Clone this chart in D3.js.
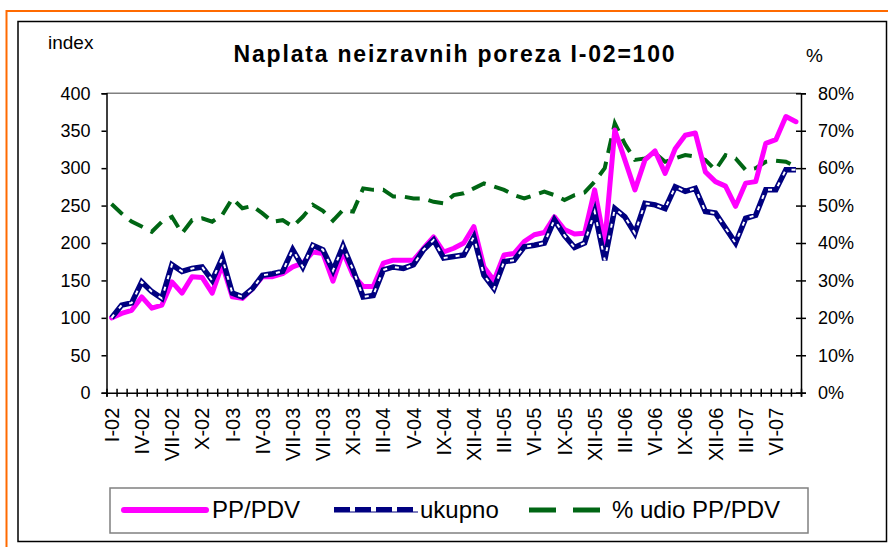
<!DOCTYPE html>
<html><head><meta charset="utf-8">
<script src="https://cdn.jsdelivr.net/npm/d3@7"></script>
<style>body{margin:0;background:#fff}svg{display:block;font-family:"Liberation Sans",Arial,sans-serif}</style>
</head><body><svg id="c" width="888" height="547"></svg>
<script>
const tickLabels = ["I-02","IV-02","VII-02","X-02","I-03","IV-03","VII-03","VII-03","XI-03","III-04","V-04","IX-04","XII-04","III-05","VI-05","IX-05","XII-05","III-06","VI-06","IX-06","XII-06","III-07","VI-07"];
const ppPdv = [100,106,110,128,113,117,148,133,155,154,133,171,128,126,139,155,155,159,168,173,188,186,149,188,157,142,142,173,177,177,177,193,208,188,193,200,222,168,150,184,186,202,211,214,235,218,212,213,271,200,351,311,271,311,323,293,326,344,347,295,282,276,249,280,282,333,338,369,362];
const ukupno = [100,117,120,148,135,126,171,162,166,168,150,180,133,128,139,157,159,162,191,168,197,191,163,196,164,128,130,164,168,166,171,191,204,180,182,184,208,157,139,175,177,195,197,200,231,210,194,200,242,177,246,235,213,253,251,246,275,269,273,242,240,220,200,233,237,271,271,298,298];
const udio = [50.4,47.9,45.7,44.4,43.0,45.7,47.0,42.6,46.1,46.6,45.7,47.5,51.9,49.3,49.9,47.9,45.7,46.1,44.4,47.0,50.2,48.6,46.0,48.8,48.4,54.6,54.2,54.2,52.4,52.4,51.9,51.9,51.0,50.6,52.8,53.3,54.6,55.9,55.1,54.2,52.8,51.9,52.8,53.7,52.8,51.5,52.8,53.5,56.4,60.0,72.0,66.5,62.2,62.6,64.0,61.7,62.6,63.5,63.1,62.2,59.5,63.5,62.6,59.5,60.0,61.7,62.0,61.7,60.4];
const categories = ppPdv.map((d, i) => i);
const leftTicks = [0,50,100,150,200,250,300,350,400];
const rightTicks = [0,10,20,30,40,50,60,70,80];

const L = 106.5, R = 801, T = 93.3, B = 392.7;
const svg = d3.select("#c");

svg.append("rect").attr("x", 6.5).attr("y", 11).attr("width", 920).attr("height", 560)
  .attr("fill", "none").attr("stroke", "#ff6a00").attr("stroke-width", 2);
svg.append("rect").attr("x", 18).attr("y", 21.5).attr("width", 868.5).attr("height", 520)
  .attr("fill", "#fff").attr("stroke", "#000").attr("stroke-width", 1.5);

const x = d3.scaleBand().domain(categories).range([L, R]);
const xb = d3.scaleLinear().domain([0, categories.length]).range([L, R]);
const yL = d3.scaleLinear().domain([0, 400]).range([B, T]);
const yR = d3.scaleLinear().domain([0, 80]).range([B, T]);

svg.append("line").attr("x1", L).attr("x2", R).attr("y1", T).attr("y2", T)
  .attr("stroke", "#808080").attr("stroke-width", 1.5);

const gl = svg.append("g").attr("transform", `translate(${L},0)`)
  .call(d3.axisLeft(yL).tickValues(leftTicks).tickSize(5).tickPadding(11));
gl.selectAll("text").attr("font-size", 18).attr("fill", "#000").attr("font-family", "Liberation Sans, Arial, sans-serif");
const gr = svg.append("g").attr("transform", `translate(${R},0)`)
  .call(d3.axisRight(yR).tickValues(rightTicks).tickFormat(d => d + "%").tickSize(5).tickPadding(12));
gr.selectAll(".tick line").attr("x1", -5);
gr.selectAll("text").attr("font-size", 18).attr("fill", "#000").attr("font-family", "Liberation Sans, Arial, sans-serif");
const gx = svg.append("g").attr("transform", `translate(0,${B})`)
  .call(d3.axisBottom(xb).tickValues(d3.range(categories.length + 1)).tickSize(4).tickFormat(""));
gx.selectAll(".tick line").attr("y1", -4);
const gx2 = svg.append("g").attr("transform", `translate(0,${B})`)
  .call(d3.axisBottom(x).tickValues(categories.filter(i => i % 3 === 0))
    .tickFormat(i => tickLabels[i / 3]).tickSize(0));
gx2.select(".domain").remove();
gx2.selectAll("text").attr("font-size", 20).attr("fill", "#000")
  .attr("font-family", "Liberation Sans, Arial, sans-serif")
  .attr("transform", "rotate(-90)").attr("text-anchor", "end")
  .attr("x", -15).attr("y", 0).attr("dy", "0.36em");
[gl, gr, gx].forEach(g => g.selectAll("path.domain, line").attr("stroke", "#000").attr("stroke-width", 1.5));

const cx = i => x(i) + x.bandwidth() / 2;
const lineL = d3.line().x((d, i) => cx(i)).y(d => yL(d));
const lineR = d3.line().x((d, i) => cx(i)).y(d => yR(d));

svg.append("path").datum(udio).attr("d", lineR).attr("fill", "none")
  .attr("stroke", "#006614").attr("stroke-width", 4).attr("stroke-dasharray", "15,9");
svg.append("path").datum(ppPdv).attr("d", lineL).attr("fill", "none")
  .attr("stroke", "#ff00ff").attr("stroke-width", 5).attr("stroke-linejoin", "round").attr("stroke-linecap", "round");
svg.append("path").datum(ukupno).attr("d", lineL).attr("fill", "none")
  .attr("stroke", "#000080").attr("stroke-width", 5.5).attr("stroke-linejoin", "miter");
svg.append("path").datum(ukupno).attr("d", lineL).attr("fill", "none")
  .attr("stroke", "#fff").attr("stroke-width", 2).attr("stroke-dasharray", "4,8");

svg.append("text").attr("x", 455).attr("y", 62).attr("text-anchor", "middle")
  .attr("font-size", 23).attr("font-weight", "bold").attr("letter-spacing", 1.8)
  .text("Naplata neizravnih poreza I-02=100");
svg.append("text").attr("x", 48).attr("y", 49).attr("font-size", 19).text("index");
svg.append("text").attr("x", 806).attr("y", 62).attr("font-size", 19).text("%");

const lg = svg.append("g");
lg.append("rect").attr("x", 110).attr("y", 488).attr("width", 698).attr("height", 45)
  .attr("fill", "#fff").attr("stroke", "#808080").attr("stroke-width", 1.5);
const ly = 510;
lg.append("line").attr("x1", 124).attr("x2", 206).attr("y1", ly).attr("y2", ly)
  .attr("stroke", "#ff00ff").attr("stroke-width", 6).attr("stroke-linecap", "round");
lg.append("text").attr("x", 212).attr("y", ly + 8).attr("font-size", 24).text("PP/PDV");
lg.append("line").attr("x1", 334).attr("x2", 418).attr("y1", ly + 2).attr("y2", ly + 2)
  .attr("stroke", "#000080").attr("stroke-width", 1.2);
lg.append("line").attr("x1", 334).attr("x2", 418).attr("y1", ly - 0.5).attr("y2", ly - 0.5)
  .attr("stroke", "#000080").attr("stroke-width", 5).attr("stroke-dasharray", "16,5");
lg.append("text").attr("x", 420).attr("y", ly + 8).attr("font-size", 24).text("ukupno");
lg.append("line").attr("x1", 529).attr("x2", 600).attr("y1", ly).attr("y2", ly)
  .attr("stroke", "#006614").attr("stroke-width", 5).attr("stroke-dasharray", "27,17");
lg.append("text").attr("x", 612).attr("y", ly + 8).attr("font-size", 24).text("% udio PP/PDV");
</script></body></html>
